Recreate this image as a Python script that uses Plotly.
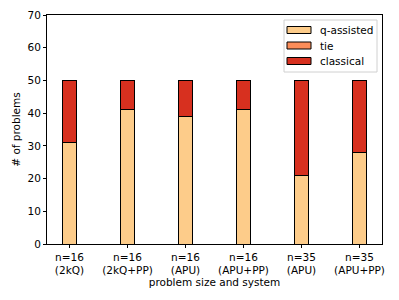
import plotly.graph_objects as go

categories = ["n=16<br>(2kQ)", "n=16<br>(2kQ+PP)", "n=16<br>(APU)", "n=16<br>(APU+PP)", "n=35<br>(APU)", "n=35<br>(APU+PP)"]
series_names = ["q-assisted", "tie", "classical"]
q_assisted = [31, 41, 39, 41, 21, 28]
tie = [0, 0, 0, 0, 0, 0]
classical = [19, 9, 11, 9, 29, 22]
colors = ["#fdcc8a", "#fc8d59", "#d7301f"]

x = list(range(len(categories)))
font = "DejaVu Sans"
fs = 10.5

fig = go.Figure()
for name, vals, col in zip(series_names, [q_assisted, tie, classical], colors):
    fig.add_trace(go.Bar(x=x, y=vals, name=name, width=0.25, showlegend=False,
                         marker=dict(color=col, line=dict(color="black", width=1))))

# plot area in page pixels (page body has an 8px margin)
PL, PR, PT, PB = 47, 382, 15, 244
def px(v):
    return (v - PL) / (PR - PL)
def py(v):
    return (PB - v) / (PB - PT)

# compact matplotlib-style legend
shapes = [dict(type="rect", xref="paper", yref="paper",
               x0=px(284), x1=px(377), y0=py(72), y1=py(20),
               line=dict(color="#d0d0d0", width=1), fillcolor="rgba(255,255,255,0.8)", layer="above")]
annotations = []
row_y = [30, 45.5, 61]
for name, col, ry in zip(series_names, colors, row_y):
    shapes.append(dict(type="rect", xref="paper", yref="paper",
                       x0=px(287), x1=px(311), y0=py(ry + 3.5), y1=py(ry - 3.5),
                       line=dict(color="black", width=1), fillcolor=col, layer="above"))
    annotations.append(dict(xref="paper", yref="paper", x=px(318), y=py(ry),
                            xanchor="left", yanchor="middle", text=name, showarrow=False,
                            font=dict(size=fs, family=font, color="black")))

fig.update_layout(
    width=391, height=292,
    barmode="stack",
    margin=dict(l=39, r=17, t=7, b=56, autoexpand=False),
    paper_bgcolor="white", plot_bgcolor="white",
    font=dict(family=font, size=fs, color="black"),
    showlegend=False,
    shapes=shapes, annotations=annotations,
    xaxis=dict(range=[-0.3875, 5.3875], tickmode="array", tickvals=x, ticktext=categories,
               showline=True, linecolor="black", linewidth=1, mirror=True,
               ticks="outside", ticklen=3, tickcolor="black", showgrid=False, zeroline=False,
               tickfont=dict(size=fs), automargin=False,
               title=dict(text="problem size and system", font=dict(size=fs), standoff=3)),
    yaxis=dict(range=[0, 70], tickvals=[0, 10, 20, 30, 40, 50, 60, 70],
               showline=True, linecolor="black", linewidth=1, mirror=True,
               ticks="outside", ticklen=3, tickcolor="black", showgrid=False, zeroline=False,
               tickfont=dict(size=fs), automargin=False,
               title=dict(text="# of problems", font=dict(size=fs), standoff=4)),
)

fig.write_html("out.html")
